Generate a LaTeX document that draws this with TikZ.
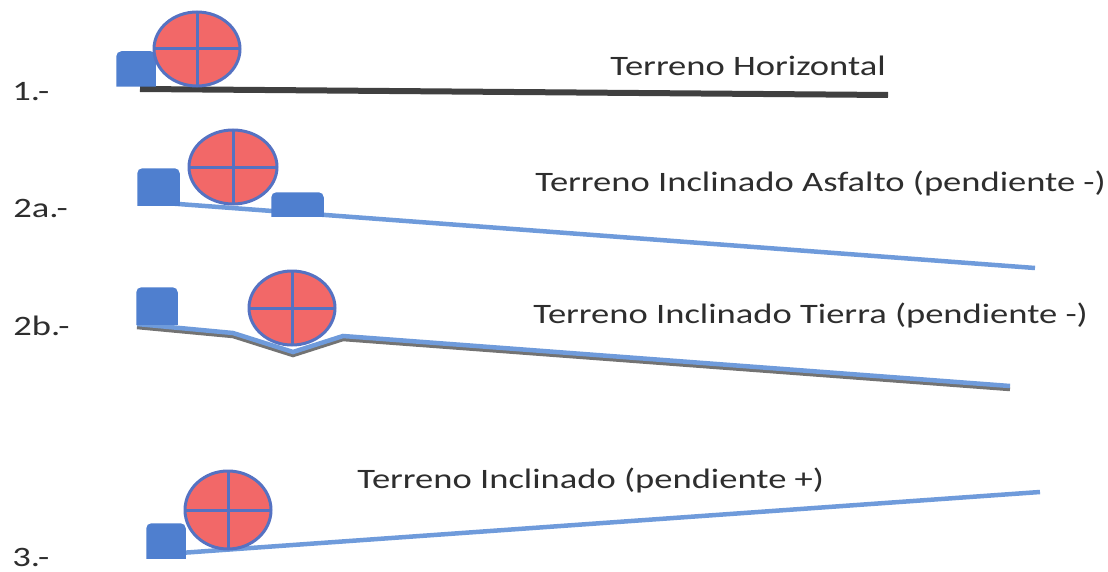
\documentclass[tikz,border=0pt]{standalone}
\usepackage{fontspec}
\setmainfont{Carlito}
\usetikzlibrary{calc}
\definecolor{rojo}{HTML}{F26868}
\definecolor{aro}{HTML}{5572C2}
\definecolor{bloque}{HTML}{4F7FCF}
\definecolor{suelo}{HTML}{6F9BDB}
\definecolor{letra}{HTML}{2E2E2E}
\tikzset{
	wheel/.style={fill=rojo, draw=aro, line width=0.6mm},
	spoke/.style={draw=aro, line width=0.6mm},
	block/.style={fill=bloque, draw=bloque, line width=0.3mm},
	ground/.style={draw=suelo, line width=0.9mm},
	lbl/.style={anchor=base west, text=letra, xscale=1.3, inner sep=0pt, font=\fontsize{16}{18}\selectfont},
}
% rueda con cruz: centro (x,y), radios (rx,ry)
\def\rueda(#1,#2)(#3,#4){\draw[wheel] (#1,#2) ellipse [x radius=#3*0.02cm, y radius=#4*0.02cm];
	\draw[spoke] (#1-#3,#2) -- (#1+#3,#2);
	\draw[spoke] (#1,#2-#4) -- (#1,#2+#4);}
% bloque con esquinas de arriba redondeadas: (izq,abajo)(der,arriba)
\def\bloque(#1,#2)(#3,#4){\draw[block] (#1,#2) [rounded corners=0.09cm] -- (#1,#4) -- (#3,#4) [sharp corners] -- (#3,#2) -- cycle;}

\begin{document}
\begin{tikzpicture}[x=0.02cm, y=-0.02cm]
			%%%%% START %%%%%
			\useasboundingbox[fill=white] (0, 0) rectangle (1108, 571);
			
			% 1.- horizontal
			\draw[line width=1.2mm, color=black!75] (140, 89) -- (888, 95);
			\bloque(117, 86)(155, 52)
			\rueda(197, 49)(43, 37)
			\node[lbl] (n1) at (12, 100) {1.-};
			\node[lbl] (t1) at (610, 75) {Terreno Horizontal};
			
			% 2a.- asfalto
			\draw[ground] (165, 203) -- (1035, 268);
			\bloque(138, 205)(179, 169)
			\bloque(272, 216)(323, 193)
			\rueda(233, 167)(44, 37)
			\node[lbl] (n2a) at (13, 217) {2a.-};
			\node[lbl] (t2a) at (535, 191) {Terreno Inclinado Asfalto (pendiente -)};
			
			% 2b.- tierra
			\draw[line width=0.9mm, color=black!55] (137, 327) -- (233, 336) -- (293, 355) -- (343, 339) -- (1010, 389);
			\draw[ground] (137, 324) -- (233, 333) -- (293, 352) -- (343, 336) -- (1010, 386);
			\bloque(137, 324)(177, 288)
			\rueda(292, 308)(43, 37)
			\node[lbl] (n2b) at (13, 335) {2b.-};
			\node[lbl] (t2b) at (533, 323) {Terreno Inclinado Tierra (pendiente -)};
			
			% 3.- pendiente +
			\draw[ground] (180, 553) -- (1040, 492);
			\bloque(147, 558)(185, 524)
			\rueda(228, 510)(43, 39)
			\node[lbl] (n3) at (12, 566) {3.-};
			\node[lbl] (t3) at (357, 488) {Terreno Inclinado (pendiente +)};
			
			%%%%% END %%%%%
		\end{tikzpicture}
\end{document}
